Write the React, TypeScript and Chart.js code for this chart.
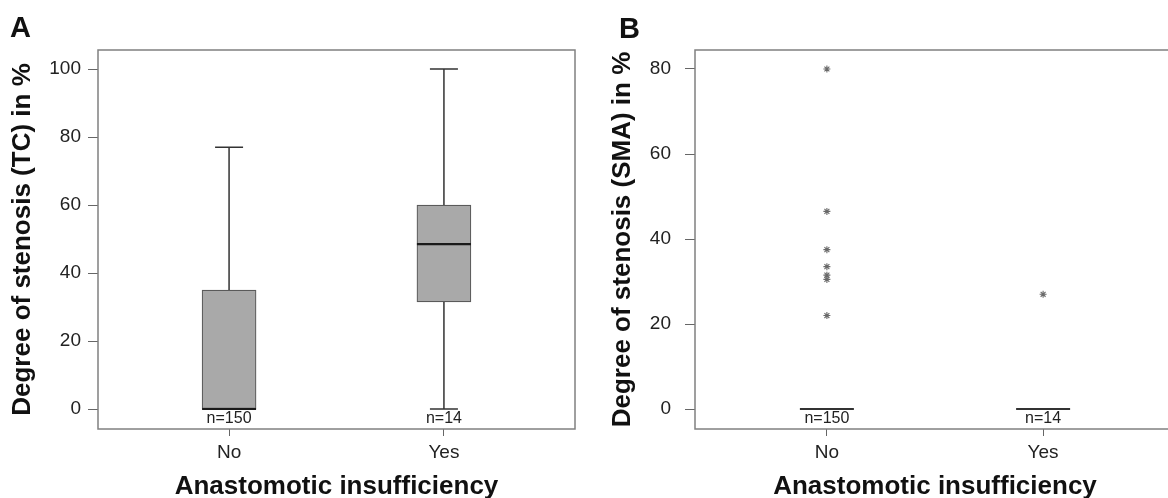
import React, { useEffect, useRef } from "react";
import { Chart, registerables } from "chart.js";

Chart.register(...registerables);

// ---------- data ----------
const categories = ["No", "Yes"];
const categoryPositions = [1, 2];
const groupCounts = [150, 14];

// Panel A – degree of stenosis (TC) in %
const tcWhiskerLow = [0, 0];
const tcQ1 = [0, 31.5];
const tcMedian = [0, 48.5];
const tcQ3 = [35, 60];
const tcWhiskerHigh = [77, 100];
const tcYTicks = [0, 20, 40, 60, 80, 100];

// Panel B – degree of stenosis (SMA) in %
const smaWhiskerLow = [0, 0];
const smaQ1 = [0, 0];
const smaMedian = [0, 0];
const smaQ3 = [0, 0];
const smaWhiskerHigh = [0, 0];
const smaOutliersNo = [80, 46.5, 37.5, 33.5, 31.5, 30.5, 22];
const smaOutliersYes = [27];
const smaYTicks = [0, 20, 40, 60, 80];

// ---------- style ----------
const FONT = "'Liberation Sans', Arial, Helvetica, sans-serif";
const FRAME = "#808080";
const DARK = "#333333";
const BOX_FILL = "#a9a9a9";
const BOX_EDGE = "#5a5a5a";
const BOX_PX = 54;
const CAP_PX = 28;

type PanelCfg = {
  title: string;
  whiskerLow: number[];
  q1: number[];
  median: number[];
  q3: number[];
  whiskerHigh: number[];
  outliers: number[][];
  yTicks: number[];
  yMin: number;
  yMax: number;
  yAxisWidth: number;
  yTickPad: number;
};

const boxExtras = (cfg: PanelCfg) => ({
  id: "boxExtras",
  afterDatasetsDraw(chart: any) {
    const { ctx, chartArea, scales } = chart;
    const x = scales.x;
    const y = scales.y;
    ctx.save();
    categoryPositions.forEach((pos, i) => {
      const cx = x.getPixelForValue(pos);
      const hasBox = cfg.q3[i] > cfg.q1[i];
      ctx.strokeStyle = DARK;
      ctx.lineWidth = 1.5;
      if (cfg.whiskerHigh[i] > cfg.q3[i]) {
        const wy = y.getPixelForValue(cfg.whiskerHigh[i]);
        ctx.beginPath();
        ctx.moveTo(cx, y.getPixelForValue(cfg.q3[i]));
        ctx.lineTo(cx, wy);
        ctx.moveTo(cx - CAP_PX / 2, wy);
        ctx.lineTo(cx + CAP_PX / 2, wy);
        ctx.stroke();
      }
      if (cfg.whiskerLow[i] < cfg.q1[i]) {
        const wy = y.getPixelForValue(cfg.whiskerLow[i]);
        ctx.beginPath();
        ctx.moveTo(cx, y.getPixelForValue(cfg.q1[i]));
        ctx.lineTo(cx, wy);
        ctx.moveTo(cx - CAP_PX / 2, wy);
        ctx.lineTo(cx + CAP_PX / 2, wy);
        ctx.stroke();
      }
      const my = y.getPixelForValue(cfg.median[i]);
      ctx.strokeStyle = hasBox ? "#1a1a1a" : "#333";
      ctx.lineWidth = 2.2;
      ctx.beginPath();
      ctx.moveTo(cx - BOX_PX / 2, my);
      ctx.lineTo(cx + BOX_PX / 2, my);
      ctx.stroke();
      ctx.fillStyle = "#222";
      ctx.font = `16px ${FONT}`;
      ctx.textAlign = "center";
      ctx.textBaseline = "middle";
      ctx.fillText(`n=${groupCounts[i]}`, cx, chartArea.bottom - 10);
    });
    ctx.restore();
  },
  afterDraw(chart: any) {
    const { ctx, chartArea } = chart;
    ctx.save();
    ctx.strokeStyle = FRAME;
    ctx.lineWidth = 1.5;
    ctx.strokeRect(
      chartArea.left,
      chartArea.top,
      chartArea.right - chartArea.left,
      chartArea.bottom - chartArea.top
    );
    ctx.restore();
  },
});

function Panel({ cfg, left, width }: { cfg: PanelCfg; left: number; width: number }) {
  const ref = useRef<HTMLCanvasElement | null>(null);
  useEffect(() => {
    if (!ref.current) return;
    const boxData = categoryPositions
      .map((pos, i) => ({ x: pos, y: [cfg.q1[i], cfg.q3[i]] }))
      .filter((d) => d.y[1] > d.y[0]);
    const outlierData: { x: number; y: number }[] = [];
    cfg.outliers.forEach((vals, i) =>
      vals.forEach((v) => outlierData.push({ x: categoryPositions[i], y: v }))
    );
    const chart = new Chart(ref.current, {
      type: "bar",
      data: {
        datasets: [
          {
            type: "bar",
            data: boxData as any,
            backgroundColor: BOX_FILL,
            borderColor: BOX_EDGE,
            borderWidth: 1.2,
            borderSkipped: false,
            barThickness: BOX_PX,
          } as any,
          {
            type: "scatter",
            data: outlierData,
            pointStyle: "star",
            radius: 3.5,
            borderColor: "#6a6a6a",
            backgroundColor: "#6a6a6a",
            borderWidth: 1.1,
          } as any,
        ],
      },
      options: {
        animation: false,
        responsive: false,
        events: [],
        layout: { padding: { left: 0, top: 50, right: 25, bottom: 0 } },
        plugins: { legend: { display: false }, tooltip: { enabled: false } },
        scales: {
          x: {
            type: "linear",
            min: 0.39,
            max: 2.61,
            offset: false,
            afterBuildTicks: (s: any) => {
              s.ticks = categoryPositions.map((v) => ({ value: v }));
            },
            afterFit: (s: any) => {
              s.height = 69;
            },
            grid: {
              display: true,
              drawOnChartArea: false,
              drawTicks: true,
              tickLength: 7,
              tickColor: "#666",
              offset: false,
            },
            border: { display: false },
            ticks: {
              autoSkip: false,
              maxRotation: 0,
              padding: 5,
              color: "#222",
              font: { family: FONT, size: 19 },
              callback: (v: any) => categories[categoryPositions.indexOf(Number(v))] ?? "",
            },
            title: {
              display: true,
              text: "Anastomotic insufficiency",
              color: "#111",
              font: { family: FONT, size: 26, weight: "bold", lineHeight: 1 },
              padding: { top: 0, bottom: -2 },
            },
          },
          y: {
            type: "linear",
            min: cfg.yMin,
            max: cfg.yMax,
            afterBuildTicks: (s: any) => {
              s.ticks = cfg.yTicks.map((v) => ({ value: v }));
            },
            afterFit: (s: any) => {
              s.width = cfg.yAxisWidth;
            },
            grid: {
              display: true,
              drawOnChartArea: false,
              drawTicks: true,
              tickLength: 10,
              tickColor: "#666",
            },
            border: { display: false },
            ticks: {
              padding: cfg.yTickPad,
              color: "#222",
              font: { family: FONT, size: 19 },
            },
            title: {
              display: true,
              text: cfg.title,
              color: "#111",
              font: { family: FONT, size: 26, weight: "bold", lineHeight: 1 },
              padding: { top: 10, bottom: 0 },
            },
          },
        },
      } as any,
      plugins: [boxExtras(cfg)],
    });
    return () => chart.destroy();
  }, []);
  return (
    <canvas
      ref={ref}
      width={width}
      height={498}
      style={{ position: "absolute", left, top: 0, width, height: 498 }}
    />
  );
}

const panelA: PanelCfg = {
  title: "Degree of stenosis (TC) in %",
  whiskerLow: tcWhiskerLow,
  q1: tcQ1,
  median: tcMedian,
  q3: tcQ3,
  whiskerHigh: tcWhiskerHigh,
  outliers: [[], []],
  yTicks: tcYTicks,
  yMin: -5.88,
  yMax: 105.6,
  yAxisWidth: 98,
  yTickPad: 7,
};

const panelB: PanelCfg = {
  title: "Degree of stenosis (SMA) in %",
  whiskerLow: smaWhiskerLow,
  q1: smaQ1,
  median: smaMedian,
  q3: smaQ3,
  whiskerHigh: smaWhiskerHigh,
  outliers: [smaOutliersNo, smaOutliersYes],
  yTicks: smaYTicks,
  yMin: -4.7,
  yMax: 84.47,
  yAxisWidth: 95,
  yTickPad: 14,
};

export default function App() {
  const label: React.CSSProperties = {
    position: "absolute",
    fontFamily: FONT,
    fontWeight: "bold",
    fontSize: 29,
    lineHeight: 1,
    color: "#111",
  };
  return (
    <div
      style={{
        position: "fixed",
        left: 0,
        top: 0,
        width: 1168,
        height: 498,
        overflow: "hidden",
        background: "#fff",
      }}
    >
      <Panel cfg={panelA} left={0} width={600} />
      <Panel cfg={panelB} left={600} width={600} />
      <div style={{ ...label, left: 10, top: 13 }}>A</div>
      <div style={{ ...label, left: 619, top: 14 }}>B</div>
    </div>
  );
}
